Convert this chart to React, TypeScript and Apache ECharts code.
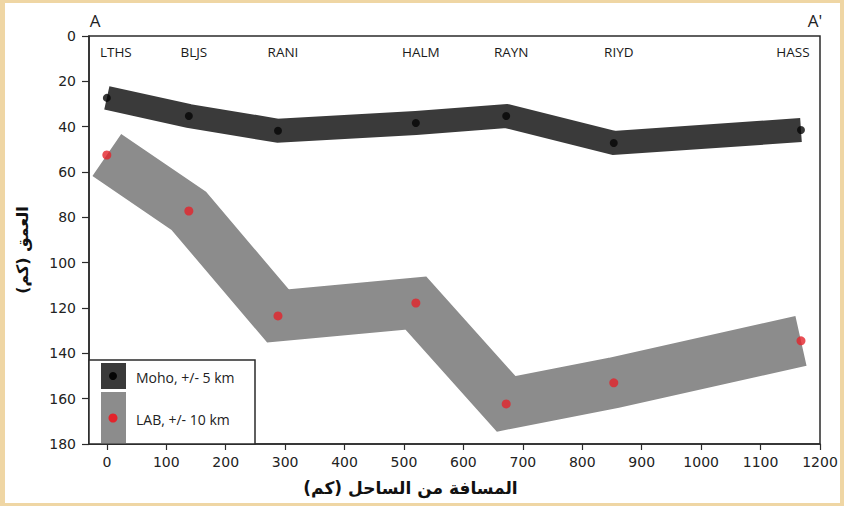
import React, { useEffect, useRef } from 'react';
import * as echarts from 'echarts';

// Stations along profile A–A'
const stations = ['LTHS', 'BLJS', 'RANI', 'HALM', 'RAYN', 'RIYD', 'HASS'];
const distanceKm = [0, 138, 288, 520, 672, 853, 1168];
// Moho depth (km), +/- 5 km
const mohoDepth = [27.3, 35.3, 41.8, 38.4, 35.3, 47.2, 41.5];
// LAB depth (km), +/- 10 km
const labDepth = [52.5, 77.2, 123.5, 117.8, 162.3, 153, 134.5];

const xTicks = [0, 100, 200, 300, 400, 500, 600, 700, 800, 900, 1000, 1100, 1200];

const xTitle = '\u200Fالمسافة من الساحل (كم)\u200F';
const yTitle = '\u200Fالعمق (كم)\u200F';
const mohoLegend = 'Moho, +/- 5 km';
const labLegend = 'LAB, +/- 10 km';

const AXIS = '#2b2b2b';
const MOHO_COLOR = '#3a3a3a';
const LAB_COLOR = '#8c8c8c';
const TICK_FONT = 'DejaVu Sans';
const SANS = 'Open Sans';
const AR_FONT = 'DejaVu Sans';

export default function App() {
  const ref = useRef<HTMLDivElement>(null);

  useEffect(() => {
    if (!ref.current) return;
    const chart = echarts.init(ref.current, undefined, { renderer: 'svg' });
    const moho = distanceKm.map((d, i) => [d, mohoDepth[i]]);
    const lab = distanceKm.map((d, i) => [d, labDepth[i]]);

    const option: any = {
      animation: false,
      grid: {
        left: 89,
        right: 24,
        top: 36,
        bottom: 62,
        show: true,
        borderColor: AXIS,
        borderWidth: 1.5,
        backgroundColor: 'transparent',
      },
      xAxis: [
        {
          type: 'value',
          min: -30,
          max: 1200,
          position: 'bottom',
          axisLine: { show: true, onZero: false, lineStyle: { color: AXIS, width: 1.5 } },
          axisTick: { show: true, length: 6, customValues: xTicks, lineStyle: { color: AXIS, width: 1.2 } },
          axisLabel: {
            customValues: xTicks,
            margin: 11,
            fontFamily: TICK_FONT,
            fontSize: 14,
            color: '#222',
            formatter: (v: number) => String(v),
          },
          splitLine: { show: false },
          name: xTitle,
          nameLocation: 'middle',
          nameGap: 35,
          nameTextStyle: {
            fontFamily: AR_FONT,
            fontWeight: 'bold',
            fontSize: 17,
            color: '#111',
            padding: [0, 88, 0, 0],
          },
        },
        {
          type: 'value',
          min: -30,
          max: 1200,
          position: 'top',
          axisLine: { show: false, onZero: false },
          axisTick: { show: false },
          splitLine: { show: false },
          axisLabel: {
            inside: true,
            customValues: distanceKm,
            margin: 9,
            fontFamily: SANS,
            fontSize: 13.5,
            color: '#1a1a1a',
            formatter: (v: number) => {
              const i = distanceKm.indexOf(v);
              if (i < 0) return '';
              const key = i === 0 ? 'first' : i === distanceKm.length - 1 ? 'last' : 'mid';
              return '{' + key + '|' + stations[i] + '}';
            },
            rich: {
              first: { fontFamily: SANS, fontSize: 13.5, color: '#1a1a1a', padding: [0, 0, 0, 18] },
              mid: { fontFamily: SANS, fontSize: 13.5, color: '#1a1a1a', padding: [0, 0, 0, 10] },
              last: { fontFamily: SANS, fontSize: 13.5, color: '#1a1a1a', padding: [0, 16, 0, 0] },
            },
          },
        },
      ],
      yAxis: {
        type: 'value',
        min: 0,
        max: 180,
        interval: 20,
        inverse: true,
        axisLine: { show: true, onZero: false, lineStyle: { color: AXIS, width: 1.5 } },
        axisTick: { show: true, length: 7, lineStyle: { color: AXIS, width: 1.2 } },
        axisLabel: { margin: 13, fontFamily: TICK_FONT, fontSize: 14, color: '#222' },
        splitLine: { show: false },
        name: yTitle,
        nameLocation: 'middle',
        nameGap: 59,
        nameTextStyle: {
          fontFamily: AR_FONT,
          fontWeight: 'bold',
          fontSize: 16,
          color: '#111',
          padding: [0, 20, 0, 0],
        },
      },
      series: [
        {
          name: 'LAB band',
          type: 'line',
          data: lab,
          symbol: 'none',
          z: 1,
          lineStyle: { color: LAB_COLOR, width: 51, cap: 'butt', join: 'miter', miterLimit: 20 },
        },
        {
          name: 'Moho band',
          type: 'line',
          data: moho,
          symbol: 'none',
          z: 2,
          lineStyle: { color: MOHO_COLOR, width: 24, cap: 'butt', join: 'miter', miterLimit: 20 },
        },
        {
          name: 'Moho',
          type: 'scatter',
          data: moho,
          symbolSize: 8,
          z: 5,
          itemStyle: { color: '#050505' },
        },
        {
          name: 'LAB',
          type: 'scatter',
          data: lab,
          symbolSize: 9,
          z: 5,
          itemStyle: { color: '#e3232b' },
        },
      ],
      graphic: [
        { type: 'rect', z: 100, shape: { x: 89, y: 360, width: 166, height: 84 }, style: { fill: '#fff', stroke: AXIS, lineWidth: 1.5 } },
        { type: 'rect', z: 101, shape: { x: 101, y: 363, width: 25, height: 26 }, style: { fill: MOHO_COLOR } },
        { type: 'rect', z: 101, shape: { x: 101, y: 392, width: 25, height: 51 }, style: { fill: LAB_COLOR } },
        { type: 'circle', z: 102, shape: { cx: 113, cy: 376, r: 4 }, style: { fill: '#050505' } },
        { type: 'circle', z: 102, shape: { cx: 113, cy: 418, r: 4.5 }, style: { fill: '#e3232b' } },
        { type: 'text', z: 102, x: 136, y: 377, style: { text: mohoLegend, fontFamily: SANS, fontSize: 14, fill: '#222', verticalAlign: 'middle' } },
        { type: 'text', z: 102, x: 136, y: 419, style: { text: labLegend, fontFamily: SANS, fontSize: 14, fill: '#222', verticalAlign: 'middle' } },
        { type: 'text', z: 102, x: 95, y: 20, style: { text: 'A', fontFamily: SANS, fontSize: 17, fill: '#222', align: 'center', verticalAlign: 'middle' } },
        { type: 'text', z: 102, x: 815, y: 20, style: { text: "A'", fontFamily: SANS, fontSize: 17, fill: '#222', align: 'center', verticalAlign: 'middle' } },
      ],
    };

    chart.setOption(option);
    return () => chart.dispose();
  }, []);

  return (
    <div style={{ position: 'absolute', left: 0, top: 0, width: 844, height: 506, background: '#efd6a4', overflow: 'hidden' }}>
      <div style={{ position: 'absolute', left: 5, top: 3, width: 835, height: 500, background: '#ffffff' }} />
      <div ref={ref} style={{ position: 'absolute', left: 0, top: 0, width: 844, height: 506 }} />
    </div>
  );
}
